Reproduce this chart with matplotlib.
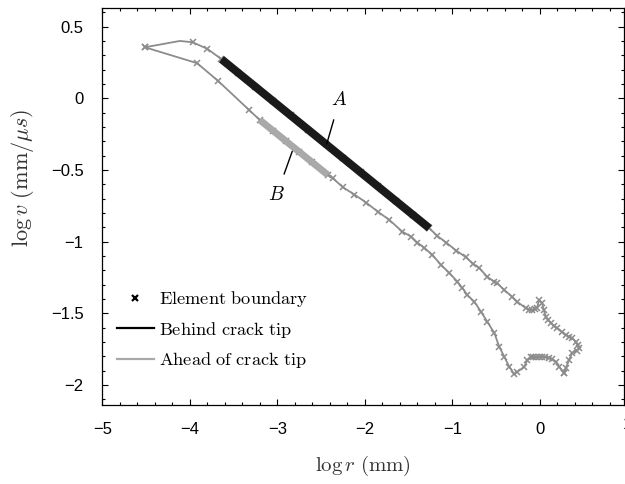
import numpy as np
import matplotlib
matplotlib.use("Agg")
from matplotlib import pyplot as plt
from matplotlib.lines import Line2D

plt.rcParams['mathtext.fontset'] = 'cm'
plt.rcParams['font.family'] = ['Liberation Sans', 'DejaVu Sans']

# upper branch of the profile (log r, log v), marker-less knee kept separate
upper_x = [-4.513, -4.114, -3.969, -3.800, -3.639, -3.45, -3.25, -3.05, -2.85, -2.65,
           -2.45, -2.25, -2.05, -1.85, -1.65, -1.45, -1.263, -1.172, -1.070, -0.956,
           -0.845, -0.762, -0.694, -0.603, -0.523, -0.489, -0.409, -0.318, -0.261,
           -0.161, -0.120, -0.090, -0.060, -0.033, -0.010, 0.024, 0.045, 0.067, 0.095,
           0.124, 0.160, 0.196, 0.250, 0.295, 0.335, 0.367, 0.409, 0.430, 0.447,
           0.420, 0.367, 0.333, 0.295, 0.276]
upper_y = [0.356, 0.400, 0.391, 0.345, 0.273, 0.179, 0.080, -0.019, -0.119, -0.218,
           -0.317, -0.417, -0.516, -0.615, -0.715, -0.814, -0.907, -0.961, -1.007, -1.063,
           -1.109, -1.156, -1.184, -1.245, -1.280, -1.289, -1.337, -1.384, -1.419,
           -1.465, -1.475, -1.477, -1.472, -1.463, -1.407, -1.428, -1.480, -1.524, -1.548,
           -1.568, -1.588, -1.603, -1.630, -1.652, -1.665, -1.673, -1.698, -1.720, -1.742,
           -1.760, -1.777, -1.826, -1.882, -1.917]
upper_nomark = [1]

# lower branch, from the far end back to the start
lower_x = [0.276, 0.219, 0.181, 0.140, 0.105, 0.060, 0.024, -0.010, -0.047, -0.075,
           -0.104, -0.143, -0.180, -0.257, -0.294, -0.351, -0.408, -0.465, -0.522,
           -0.602, -0.674, -0.750, -0.830, -0.887, -0.944, -1.035, -1.130, -1.229,
           -1.320, -1.400, -1.472, -1.571, -1.720, -1.853, -1.985, -2.119, -2.252,
           -2.366, -2.423, -2.60, -2.75, -2.90, -3.05, -3.202, -3.324, -3.677,
           -3.917, -4.513]
lower_y = [-1.917, -1.873, -1.838, -1.822, -1.812, -1.805, -1.803, -1.804, -1.807, -1.805,
           -1.803, -1.826, -1.873, -1.908, -1.924, -1.873, -1.803, -1.733, -1.637,
           -1.559, -1.489, -1.419, -1.372, -1.323, -1.279, -1.219, -1.163, -1.093,
           -1.044, -1.007, -0.965, -0.931, -0.849, -0.791, -0.728, -0.672, -0.621,
           -0.558, -0.535, -0.448, -0.374, -0.300, -0.226, -0.151, -0.081, 0.121,
           0.245, 0.356]

# fitted slopes
fit_a_x = [-3.639, -1.263]
fit_a_y = [0.273, -0.907]
fit_b_x = [-3.202, -2.423]
fit_b_y = [-0.151, -0.535]

curve_grey = '#8c8c8c'
light_grey = '#a9a9a9'

fig = plt.figure(figsize=(6.25, 4.84), dpi=100)
ax = fig.add_axes([0.1637, 0.1632, 0.9984 - 0.1637, 0.9829 - 0.1632])

mark_idx = [i for i in range(len(upper_x)) if i not in upper_nomark]
ax.plot(upper_x, upper_y, color=curve_grey, lw=1.3, marker='x', ms=5, mew=1.1,
        markevery=mark_idx)
ax.plot(lower_x, lower_y, color=curve_grey, lw=1.3, marker='x', ms=5, mew=1.1)

ax.plot(fit_a_x, fit_a_y, color='#1a1a1a', lw=5.8, solid_capstyle='butt')
ax.plot(fit_b_x, fit_b_y, color=light_grey, lw=5, solid_capstyle='butt')

ax.annotate(r'$A$', xy=(-2.437, -0.32), xytext=(-2.29, -0.012), fontsize=14,
            ha='center', va='center',
            arrowprops=dict(arrowstyle='-', color='k', lw=1, shrinkA=6, shrinkB=0))
ax.annotate(r'$B$', xy=(-2.83, -0.37), xytext=(-3.009, -0.675), fontsize=14,
            ha='center', va='center',
            arrowprops=dict(arrowstyle='-', color='k', lw=1, shrinkA=7, shrinkB=0))

ax.set_xlim(-5, 0.96)
ax.set_ylim(-2.14, 0.628)
ax.set_xticks([-5, -4, -3, -2, -1, 0])
ax.set_yticks([-2, -1.5, -1, -0.5, 0, 0.5])
ax.set_yticklabels(['\u22122', '\u22121.5', '\u22121', '\u22120.5', '0', '0.5'])
ax.set_xticks(np.arange(-5, 0.96, 0.2), minor=True)
ax.set_yticks(np.arange(-2.1, 0.63, 0.1), minor=True)
ax.tick_params(which='both', direction='in', top=True, right=True, labelsize=12,
               width=0.8)
ax.tick_params(which='major', length=4.5)
ax.tick_params(axis='x', which='major', pad=12.5)
ax.tick_params(axis='y', which='major', pad=13.5)
ax.tick_params(which='minor', length=2)
for s in ax.spines.values():
    s.set_linewidth(0.9)
# tick label for x = 1 sits right on the clipped edge
ax.text(1, -0.03, '1', transform=ax.get_xaxis_transform(), ha='center', va='top',
        fontsize=12, clip_on=False)

ax.set_xlabel(r'$\log r\ (\mathrm{mm})$', fontsize=15, color='#333333', labelpad=12)
ax.set_ylabel(r'$\log v\ (\mathrm{mm}/\mu s)$', fontsize=16, color='#333333')
ax.yaxis.set_label_coords(-0.127, 0.572)

handles = [Line2D([], [], ls='none', marker='x', color='k', ms=4.5, mew=1.6),
           Line2D([], [], color='k', lw=1.6),
           Line2D([], [], color=light_grey, lw=1.6)]
labels = [r'$\mathrm{Element\ boundary}$', r'$\mathrm{Behind\ crack\ tip}$',
          r'$\mathrm{Ahead\ of\ crack\ tip}$']
ax.legend(handles, labels, loc='upper left', bbox_to_anchor=(0.028, 0.292),
          frameon=False, fontsize=13.2, handlelength=2.0, handletextpad=0.3,
          labelspacing=0.58, borderpad=0, borderaxespad=0)

fig.savefig('out.png', dpi=100)
